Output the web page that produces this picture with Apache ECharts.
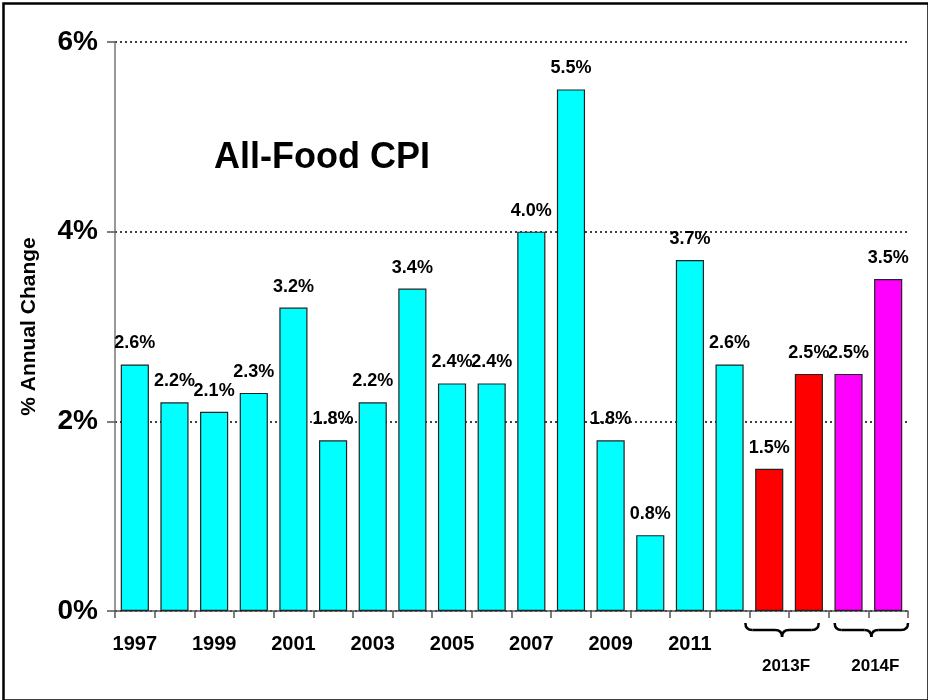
<!DOCTYPE html>
<html><head><meta charset="utf-8">
<script src="https://cdn.jsdelivr.net/npm/echarts@6/dist/echarts.min.js"></script>
<style>html,body{margin:0;padding:0;background:#fff}#c{width:928px;height:700px}</style>
</head><body><div id="c"></div>
<script>
const categories = ['1997','1998','1999','2000','2001','2002','2003','2004','2005','2006','2007','2008','2009','2010','2011','2012','2013F-low','2013F-high','2014F-low','2014F-high'];
const values = [2.6,2.2,2.1,2.3,3.2,1.8,2.2,3.4,2.4,2.4,4.0,5.5,1.8,0.8,3.7,2.6,1.5,2.5,2.5,3.5];
const barColors = ['#00FFFF','#00FFFF','#00FFFF','#00FFFF','#00FFFF','#00FFFF','#00FFFF','#00FFFF','#00FFFF','#00FFFF','#00FFFF','#00FFFF','#00FFFF','#00FFFF','#00FFFF','#00FFFF','#FF0000','#FF0000','#FF00FF','#FF00FF'];
const yTicks = [0,2,4,6];
const forecastGroups = [{label:'2013F', from:16, to:17}, {label:'2014F', from:18, to:19}];
const titleText = 'All-Food CPI';
const yAxisTitle = '% Annual Change';

const FONT = '"Liberation Sans", Arial, sans-serif';
const chart = echarts.init(document.getElementById('c'), null, {renderer:'canvas'});
const option = {
  animation: false,
  backgroundColor: '#fff',
  grid: {left: 115, right: 20, top: 42, bottom: 89},
  xAxis: {
    type: 'category', data: categories, boundaryGap: true,
    axisLine: {lineStyle: {color: '#555', width: 1.5}},
    axisTick: {show: true, interval: 0, length: 7, lineStyle: {color: '#555', width: 1.5}},
    axisLabel: {interval: 0, margin: 23, color: '#000', fontFamily: FONT, fontWeight: 'bold', fontSize: 20,
      formatter: (v, i) => (i % 2 === 0 && i <= 14) ? v : ''}
  },
  yAxis: {
    type: 'value', min: yTicks[0], max: yTicks[yTicks.length-1], interval: 2,
    axisLine: {show: true, lineStyle: {color: '#777', width: 1.5}},
    axisTick: {show: true, length: 8, lineStyle: {color: '#555', width: 1.5}},
    splitLine: {show: true, lineStyle: {color: '#000', type: [2, 3], width: 1.5}},
    axisLabel: {color: '#000', fontFamily: FONT, fontWeight: 'bold', fontSize: 28, margin: 17,
      formatter: v => v + '%'},
    name: yAxisTitle, nameLocation: 'middle', nameGap: 75, nameRotate: 90,
    nameTextStyle: {color: '#000', fontFamily: FONT, fontWeight: 'bold', fontSize: 21}
  },
  series: [{
    type: 'bar', barCategoryGap: '29%',
    data: values.map((v, i) => ({value: v, itemStyle: {color: barColors[i]}})),
    itemStyle: {borderColor: '#222', borderWidth: 1.2},
    label: {show: true, position: 'top', distance: 12, color: '#000', fontFamily: FONT, fontWeight: 'bold', fontSize: 18,
      formatter: p => p.value.toFixed(1) + '%'}
  }],
  graphic: [
    {type: 'rect', left: 1, top: 1, shape: {width: 925, height: 697}, style: {fill: 'none', stroke: '#000', lineWidth: 2.5}, z: 100},
    {type: 'text', left: 214, top: 140, style: {text: titleText, fill: '#000', font: 'bold 36px ' + FONT}}
  ]
};
chart.setOption(option);

// braces and forecast labels positioned from the axis scale
const extra = [];
const yBase = chart.convertToPixel({yAxisIndex: 0}, 0);
const half = (chart.convertToPixel({xAxisIndex: 0}, categories[1]) - chart.convertToPixel({xAxisIndex: 0}, categories[0])) / 2;
forecastGroups.forEach((g, k) => {
  const a = chart.convertToPixel({xAxisIndex: 0}, categories[g.from]) - half;
  const b = chart.convertToPixel({xAxisIndex: 0}, categories[g.to]) + half;
  const x1 = k === 0 ? a - 4 : a + 6;
  const x2 = k === 0 ? b - 10 : b;
  const mid = (x1 + x2) / 2;
  const y0 = yBase + 12, y1 = yBase + 19, y2 = yBase + 26;
  const st = {fill: 'none', stroke: '#000', lineWidth: 2.5};
  extra.push({type: 'bezierCurve', shape: {x1: x1, y1: y0, cpx1: x1, cpy1: y1, x2: x1 + 7, y2: y1}, style: st});
  extra.push({type: 'line', shape: {x1: x1 + 7, y1: y1, x2: mid - 7, y2: y1}, style: st});
  extra.push({type: 'bezierCurve', shape: {x1: mid - 7, y1: y1, cpx1: mid, cpy1: y1, x2: mid, y2: y2}, style: st});
  extra.push({type: 'bezierCurve', shape: {x1: mid, y1: y2, cpx1: mid, cpy1: y1, x2: mid + 7, y2: y1}, style: st});
  extra.push({type: 'line', shape: {x1: mid + 7, y1: y1, x2: x2 - 7, y2: y1}, style: st});
  extra.push({type: 'bezierCurve', shape: {x1: x2 - 7, y1: y1, cpx1: x2, cpy1: y1, x2: x2, y2: y0}, style: st});
  extra.push({type: 'text', x: mid + 4, y: yBase + 55, style: {text: g.label, fill: '#000', font: 'bold 17px ' + FONT, textAlign: 'center', textVerticalAlign: 'middle'}});
});
chart.setOption({graphic: option.graphic.concat(extra)});
</script></body></html>
